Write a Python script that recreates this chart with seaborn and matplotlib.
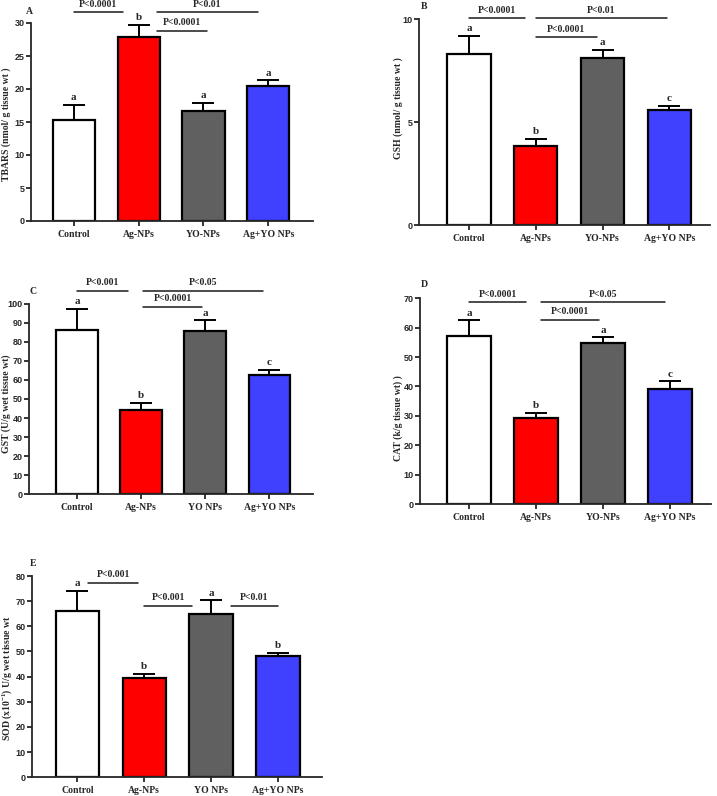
import numpy as np
import pandas as pd
import matplotlib
matplotlib.use("Agg")
import matplotlib.pyplot as plt
import seaborn as sns

# ---------------- data ----------------
groups_dash = ["Control", "Ag-NPs", "YO-NPs", "Ag+YO NPs"]
groups_space = ["Control", "Ag-NPs", "YO NPs", "Ag+YO NPs"]

tbars_mean = [15.3, 27.9, 16.7, 20.4]
tbars_err = [2.3, 1.8, 1.2, 0.9]
tbars_letters = ["a", "b", "a", "a"]
tbars_brackets = [(0.0, 0.76, 31.6, "P<0.0001"), (1.28, 2.84, 31.6, "P<0.01"), (1.28, 2.05, 28.8, "P<0.0001")]

gsh_mean = [8.3, 3.85, 8.1, 5.6]
gsh_err = [0.9, 0.35, 0.4, 0.2]
gsh_letters = ["a", "b", "a", "c"]
gsh_brackets = [(0.0, 0.84, 10.05, "P<0.0001"), (1.0, 2.96, 10.05, "P<0.01"), (1.0, 1.91, 9.13, "P<0.0001")]

gst_mean = [86.0, 44.3, 85.8, 62.5]
gst_err = [11.3, 3.7, 5.4, 2.9]
gst_letters = ["a", "b", "a", "c"]
gst_brackets = [(0.0, 0.8, 106.8, "P<0.001"), (1.03, 2.9, 106.8, "P<0.05"), (1.03, 1.95, 98.4, "P<0.0001")]

cat_mean = [57.2, 29.2, 54.9, 39.0]
cat_err = [5.3, 1.9, 1.8, 2.7]
cat_letters = ["a", "b", "a", "c"]
cat_brackets = [(0.0, 0.85, 68.7, "P<0.0001"), (1.07, 2.92, 68.7, "P<0.05"), (1.07, 1.94, 62.7, "P<0.0001")]

sod_mean = [66.2, 39.3, 64.8, 48.4]
sod_err = [7.8, 1.7, 5.5, 1.1]
sod_letters = ["a", "b", "a", "b"]
sod_brackets = [(0.16, 0.91, 77.3, "P<0.001"), (1.0, 1.72, 68.1, "P<0.001"), (2.3, 3.0, 68.1, "P<0.01")]

bar_colors = ["#FFFFFF", "#FF0000", "#606060", "#4040FF"]

# ---------------- style ----------------
sns.set_style("ticks")
plt.rcParams["font.family"] = ["Liberation Serif", "DejaVu Serif"]
plt.rcParams["mathtext.fontset"] = "custom"
plt.rcParams["mathtext.rm"] = "Liberation Serif:bold"
plt.rcParams["mathtext.bf"] = "Liberation Serif:bold"
plt.rcParams["mathtext.default"] = "bf"

W, H = 717, 796
fig = plt.figure(figsize=(W / 100, H / 100), dpi=100)


def px_axes(left, top, right, bottom):
    return fig.add_axes([left / W, 1 - bottom / H, (right - left) / W, (bottom - top) / H])


panels = [
    dict(box=(31, 23, 313, 221), groups=groups_dash, mean=tbars_mean, err=tbars_err,
         letters=tbars_letters, brackets=tbars_brackets, ymax=30, ystep=5,
         xlim=(-0.66, 3.69), ylabel="TBARS (nmol/ g tissue wt )", labpos=(6, 124),
         tag="A", tagoff=(-2, 11)),
    dict(box=(419, 19.3, 710, 225.3), groups=groups_dash, mean=gsh_mean, err=gsh_err,
         letters=gsh_letters, brackets=gsh_brackets, ymax=10, ystep=5,
         xlim=(-0.75, 3.61), ylabel="GSH (nmol/ g tissue wt )", labpos=(398, 108),
         tag="B", tagoff=(5, 13)),
    dict(box=(29, 303.7, 313, 494.3), groups=groups_space, mean=gst_mean, err=gst_err,
         letters=gst_letters, brackets=gst_brackets, ymax=100, ystep=10,
         xlim=(-0.75, 3.68), ylabel="GST (U/g wet tissue wt)", labpos=(6, 404),
         tag="C", tagoff=(4, 12)),
    dict(box=(420, 298.3, 711, 504), groups=groups_dash, mean=cat_mean, err=cat_err,
         letters=cat_letters, brackets=cat_brackets, ymax=70, ystep=10,
         xlim=(-0.73, 3.61), ylabel="CAT (k/g tissue wt) )", labpos=(398, 418),
         tag="D", tagoff=(4, 14)),
    dict(box=(32, 576, 322, 777.3), groups=groups_space, mean=sod_mean, err=sod_err,
         letters=sod_letters, brackets=sod_brackets, ymax=80, ystep=10,
         xlim=(-0.68, 3.66), ylabel=r"SOD (x10$^{-1}$) U/g wet tissue wt", labpos=(7, 678),
         tag="E", tagoff=(1, 13)),
]

for p in panels:
    ax = px_axes(*p["box"])
    df = pd.DataFrame({"group": p["groups"], "value": p["mean"]})
    sns.barplot(data=df, x="group", y="value", hue="group", palette=bar_colors,
                order=p["groups"], hue_order=p["groups"], legend=False, errorbar=None,
                saturation=1, width=0.65, edgecolor="black", linewidth=1.6, ax=ax, zorder=2)
    xs = np.arange(len(p["groups"]))
    ax.errorbar(xs, p["mean"], yerr=[np.zeros(len(xs)), p["err"]], fmt="none",
                ecolor="black", elinewidth=1.4, capsize=8, capthick=1.4, zorder=3)
    for x, m, e, lab in zip(xs, p["mean"], p["err"], p["letters"]):
        ax.annotate(lab, xy=(x, m + e), xytext=(0, 2), textcoords="offset points",
                    ha="center", va="bottom", fontsize=8, fontweight="bold")
    for x1, x2, y, txt in p["brackets"]:
        ax.plot([x1, x2], [y, y], color="#1a1a1a", lw=1.1, clip_on=False, zorder=4)
        ax.annotate(txt, xy=((x1 + x2) / 2, y), xytext=(0, 2.5), textcoords="offset points",
                    ha="center", va="bottom", fontsize=7, fontweight="bold",
                    annotation_clip=False)
    ax.set_xlim(*p["xlim"])
    ax.set_ylim(0, p["ymax"])
    ax.set_yticks(np.arange(0, p["ymax"] + 0.01, p["ystep"]))
    ax.set_xlabel("")
    ylab = ax.set_ylabel(p["ylabel"], fontsize=7, fontweight="bold")
    ylab.set_verticalalignment("center")
    l, t, r, b = p["box"]
    lx, ly = p["labpos"]
    ax.yaxis.set_label_coords((lx - l) / (r - l), (b - ly) / (b - t))
    sns.despine(ax=ax)
    for s in ("left", "bottom"):
        ax.spines[s].set_linewidth(1.3)
    ax.tick_params(axis="both", direction="out", length=3.5, width=1.3)
    ax.tick_params(axis="x", pad=3)
    ax.tick_params(axis="y", pad=1.2)
    for tl in ax.get_yticklabels():
        tl.set_fontfamily("Liberation Sans")
        tl.set_fontweight("bold")
        tl.set_fontsize(6.5)
    for tl in ax.get_xticklabels():
        tl.set_fontweight("bold")
        tl.set_fontsize(7)
    ax.annotate(p["tag"], xy=(0, 1), xycoords="axes fraction", xytext=p["tagoff"],
                textcoords="offset pixels", ha="center", va="center",
                fontsize=7, fontweight="bold", annotation_clip=False)

fig.savefig("out.png", dpi=100)
